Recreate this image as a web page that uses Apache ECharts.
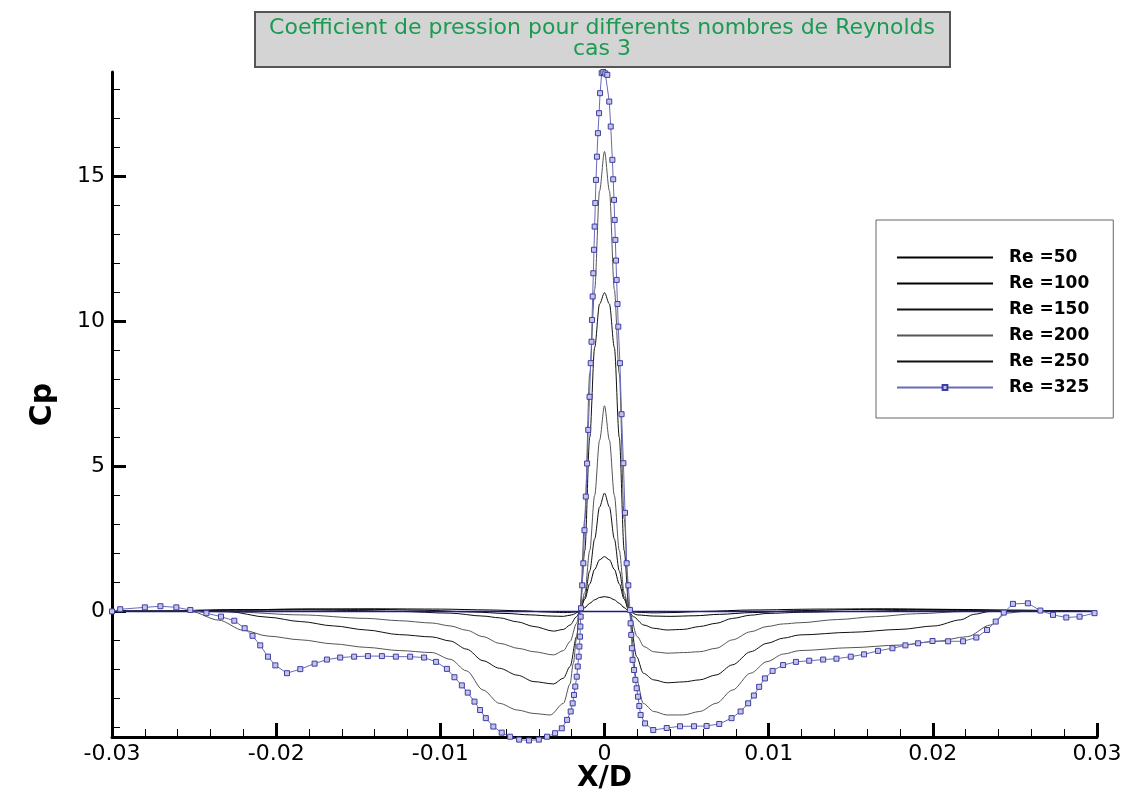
<!DOCTYPE html>
<html>
<head>
<meta charset="utf-8">
<title>Coefficient de pression</title>
<script src="https://cdn.jsdelivr.net/npm/echarts@6/dist/echarts.min.js"></script>
<style>
	html, body { margin: 0; padding: 0; background: #fff; }
	#chart { width: 1129px; height: 796px; }
</style>
</head>
<body>
<div id="chart"></div>
<script>
// titres et etiquettes
const titleText = "Coefficient de pression pour differents nombres de Reynolds\ncas 3";
const legendNames = ["Re =50", "Re =100", "Re =150", "Re =200", "Re =250", "Re =325"];
const yMajorTicks = [0, 5, 10, 15];
const yMinorTicks = [-4, -3, -2, -1, 1, 2, 3, 4, 6, 7, 8, 9, 11, 12, 13, 14, 16, 17, 18];

// Cp(X/D)
const re50 = [
	[-0.03, 0], [-0.026, 0.03], [-0.022, 0.06], [-0.018, 0.08], [-0.014, 0.09], [-0.01, 0.08],
	[-0.007, 0.05], [-0.005, 0.02], [-0.0035, -0.02], [-0.0025, -0.04], [-0.002, -0.03], [-0.0015, 0],
	[-0.0012, 0.13], [-0.0009, 0.28], [-0.0006, 0.4], [-0.0003, 0.48], [0, 0.51], [0.0003, 0.48],
	[0.0006, 0.4], [0.0009, 0.28], [0.0012, 0.13], [0.0015, 0], [0.002, -0.03], [0.003, -0.05],
	[0.004, -0.04], [0.006, 0], [0.009, 0.05], [0.013, 0.08], [0.017, 0.09], [0.021, 0.07],
	[0.025, 0.04], [0.03, 0]
];
const re100 = [
	[-0.03, 0], [-0.026, 0.03], [-0.022, 0.06], [-0.018, 0.08], [-0.014, 0.07], [-0.011, 0.04],
	[-0.008, -0.02], [-0.006, -0.07], [-0.0045, -0.12], [-0.0032, -0.16], [-0.0025, -0.17], [-0.002, -0.12],
	[-0.0015, 0], [-0.0012, 0.42], [-0.0009, 0.95], [-0.0006, 1.45], [-0.0003, 1.78], [0, 1.89],
	[0.0003, 1.78], [0.0006, 1.45], [0.0009, 0.95], [0.0012, 0.42], [0.0015, 0], [0.002, -0.12],
	[0.003, -0.16], [0.004, -0.17], [0.0055, -0.15], [0.007, -0.1], [0.009, -0.04], [0.012, 0.03],
	[0.016, 0.07], [0.02, 0.07], [0.025, 0.04], [0.03, 0]
];
const re150 = [
	[-0.03, 0], [-0.026, 0.02], [-0.022, 0.04], [-0.018, 0.05], [-0.015, 0.03], [-0.0125, 0],
	[-0.0094, -0.06], [-0.0074, -0.16], [-0.0064, -0.22], [-0.0053, -0.36], [-0.0043, -0.52], [-0.0031, -0.68],
	[-0.0025, -0.62], [-0.0021, -0.47], [-0.0017, -0.18], [-0.0015, 0], [-0.0012, 0.5], [-0.0009, 1.4],
	[-0.0006, 2.5], [-0.0003, 3.6], [0, 4.08], [0.0003, 3.6], [0.0006, 2.5], [0.0009, 1.4],
	[0.0012, 0.5], [0.0015, 0], [0.00175, -0.18], [0.0024, -0.47], [0.003, -0.58], [0.0038, -0.64],
	[0.0048, -0.62], [0.0058, -0.52], [0.0068, -0.41], [0.0078, -0.24], [0.0089, -0.13], [0.0099, -0.07],
	[0.012, -0.03], [0.015, 0], [0.019, 0.04], [0.024, 0.03], [0.03, 0]
];
const re200 = [
	[-0.03, 0], [-0.026, 0.02], [-0.0226, -0.02], [-0.0185, -0.12], [-0.0145, -0.24], [-0.0125, -0.32],
	[-0.0105, -0.4], [-0.0094, -0.5], [-0.0084, -0.65], [-0.0074, -0.87], [-0.0064, -1.1], [-0.0052, -1.28],
	[-0.0043, -1.39], [-0.0031, -1.5], [-0.0025, -1.35], [-0.0021, -1.04], [-0.0017, -0.41], [-0.0015, 0],
	[-0.0012, 0.65], [-0.0009, 2.1], [-0.0006, 4.0], [-0.0003, 5.9], [0, 7.09], [0.0003, 5.9],
	[0.0006, 4.0], [0.0009, 2.1], [0.0012, 0.65], [0.0015, 0], [0.002, -0.87], [0.0024, -1.21],
	[0.003, -1.39], [0.0038, -1.44], [0.0048, -1.42], [0.0058, -1.39], [0.0068, -1.27], [0.0078, -0.98],
	[0.0089, -0.7], [0.0099, -0.52], [0.0109, -0.43], [0.0119, -0.39], [0.0142, -0.28], [0.0165, -0.18],
	[0.019, -0.08], [0.022, 0], [0.026, 0.02], [0.03, 0]
];
const re250 = [
	[-0.03, 0], [-0.026, 0.03], [-0.023, 0], [-0.0205, -0.2], [-0.0185, -0.35], [-0.0165, -0.5],
	[-0.0145, -0.64], [-0.0125, -0.8], [-0.0105, -0.88], [-0.0094, -1.02], [-0.0084, -1.3], [-0.0074, -1.7],
	[-0.0064, -1.96], [-0.0053, -2.2], [-0.0043, -2.42], [-0.0031, -2.5], [-0.0025, -2.3], [-0.0021, -1.9],
	[-0.0017, -0.87], [-0.0015, 0], [-0.0012, 2.1], [-0.0009, 6.0], [-0.0006, 9.1], [-0.0003, 10.6],
	[0, 10.99], [0.0003, 10.6], [0.0006, 9.1], [0.0009, 6.0], [0.0012, 2.1], [0.0015, 0],
	[0.00196, -1.56], [0.00236, -2.13], [0.003, -2.36], [0.0038, -2.46], [0.0048, -2.43], [0.0058, -2.36],
	[0.0068, -2.19], [0.0078, -1.84], [0.0089, -1.39], [0.0099, -1.1], [0.0109, -0.92], [0.0119, -0.81],
	[0.015, -0.72], [0.018, -0.62], [0.0201, -0.5], [0.0217, -0.29], [0.0225, -0.1], [0.0235, 0],
	[0.027, 0.02], [0.03, 0]
];
// courbe noire sans entree de legende
const reUnlisted = [
	[-0.03, 0], [-0.027, 0.02], [-0.0252, 0], [-0.0235, -0.3], [-0.022, -0.65], [-0.0205, -0.85],
	[-0.0185, -0.98], [-0.0165, -1.12], [-0.0145, -1.24], [-0.0125, -1.35], [-0.0105, -1.42], [-0.0094, -1.65],
	[-0.0084, -2.05], [-0.0074, -2.71], [-0.0064, -3.17], [-0.0053, -3.4], [-0.0043, -3.52], [-0.0033, -3.57],
	[-0.0025, -3.17], [-0.0021, -2.5], [-0.0019, -1.79], [-0.0017, -0.9], [-0.0015, 0], [-0.0012, 3.2],
	[-0.0009, 8.2], [-0.0006, 11.1], [-0.0003, 14.5], [0, 15.86], [0.0003, 14.5], [0.0006, 11.1],
	[0.0009, 8.2], [0.0012, 3.2], [0.0015, 0], [0.00196, -2.36], [0.00236, -3.17], [0.003, -3.45],
	[0.0038, -3.57], [0.0048, -3.57], [0.0058, -3.45], [0.0068, -3.17], [0.0078, -2.71], [0.0089, -2.13],
	[0.0099, -1.73], [0.0109, -1.47], [0.0119, -1.35], [0.015, -1.25], [0.018, -1.16], [0.0201, -1.04],
	[0.0221, -0.87], [0.0235, -0.47], [0.0245, -0.06], [0.0255, 0], [0.03, 0]
];
const re325 = [
	[-0.03, 0], [-0.0295, 0.075], [-0.028, 0.14], [-0.02705, 0.18], [-0.02608, 0.14], [-0.02523, 0.05],
	[-0.02425, -0.06], [-0.02336, -0.18], [-0.02255, -0.32], [-0.02192, -0.58], [-0.02144, -0.84], [-0.02097, -1.17],
	[-0.0205, -1.56], [-0.02005, -1.86], [-0.01934, -2.13], [-0.01853, -1.99], [-0.01766, -1.8], [-0.01691, -1.66],
	[-0.0161, -1.59], [-0.01525, -1.56], [-0.01441, -1.54], [-0.01356, -1.54], [-0.01271, -1.56], [-0.01184, -1.56],
	[-0.01099, -1.59], [-0.01026, -1.74], [-0.0096, -1.98], [-0.00914, -2.27], [-0.00869, -2.55], [-0.00833, -2.8],
	[-0.00792, -3.11], [-0.00758, -3.4], [-0.00723, -3.68], [-0.00677, -3.97], [-0.00626, -4.18], [-0.00575, -4.32],
	[-0.0052, -4.42], [-0.0046, -4.45], [-0.004, -4.42], [-0.0035, -4.32], [-0.00301, -4.2], [-0.0026, -4.03],
	[-0.00228, -3.74], [-0.00206, -3.45], [-0.00194, -3.17], [-0.00186, -2.88], [-0.00178, -2.59], [-0.00169, -2.25],
	[-0.00163, -1.9], [-0.00157, -1.56], [-0.00153, -1.21], [-0.00149, -0.87], [-0.00147, -0.52], [-0.00145, -0.18],
	[-0.00143, 0.11], [-0.00136, 0.9], [-0.00129, 1.66], [-0.00122, 2.8], [-0.00114, 3.96], [-0.00106, 5.1],
	[-0.00099, 6.26], [-0.00091, 7.4], [-0.00084, 8.56], [-0.00079, 9.3], [-0.00076, 10.05], [-0.00072, 10.86],
	[-0.00068, 11.66], [-0.00064, 12.47], [-0.0006, 13.27], [-0.00056, 14.08], [-0.00052, 14.88], [-0.00046, 15.68],
	[-0.0004, 16.49], [-0.00033, 17.18], [-0.00027, 17.87], [-0.00017, 18.56], [-0.00007, 18.6], [0.00005, 18.55],
	[0.00017, 18.5], [0.00029, 17.58], [0.00038, 16.72], [0.00048, 15.57], [0.00053, 14.9], [0.00058, 14.19],
	[0.00062, 13.5], [0.00066, 12.81], [0.0007, 12.1], [0.00074, 11.43], [0.00079, 10.6], [0.00084, 9.82],
	[0.00094, 8.56], [0.00104, 6.8], [0.00115, 5.11], [0.00125, 3.4], [0.00135, 1.66], [0.00145, 0.9],
	[0.00155, 0.05], [0.00159, -0.41], [0.00163, -0.81], [0.00167, -1.27], [0.00171, -1.67], [0.0018, -2.02],
	[0.00188, -2.36], [0.00196, -2.65], [0.00204, -2.94], [0.00212, -3.26], [0.0022, -3.57], [0.00247, -3.86],
	[0.00297, -4.09], [0.00379, -4.02], [0.0046, -3.96], [0.00545, -3.96], [0.00622, -3.95], [0.00699, -3.88],
	[0.00774, -3.68], [0.00829, -3.45], [0.00875, -3.17], [0.0091, -2.9], [0.00942, -2.6], [0.00977, -2.31],
	[0.01024, -2.05], [0.01088, -1.85], [0.01166, -1.74], [0.01247, -1.7], [0.01332, -1.66], [0.01413, -1.63],
	[0.015, -1.56], [0.01581, -1.48], [0.01666, -1.36], [0.01754, -1.27], [0.01833, -1.17], [0.0191, -1.1],
	[0.01998, -1.02], [0.02093, -1.03], [0.02184, -1.03], [0.02265, -0.9], [0.0233, -0.64], [0.02383, -0.35],
	[0.02432, -0.04], [0.02488, 0.26], [0.02579, 0.28], [0.02655, 0.03], [0.02732, -0.12], [0.02813, -0.21],
	[0.02894, -0.18], [0.02985, -0.06]
];
// ligne Cp = 0
const zeroLine = [[-0.03, 0], [0.03, 0]];

const FONT = "DejaVu Sans";
const chart = echarts.init(document.getElementById("chart"));

function blackLine(name, data, color) {
	return {
		name: name,
		type: "line",
		data: data,
		showSymbol: false,
		symbol: "none",
		smooth: 0.3,
		smoothMonotone: "x",
		lineStyle: { color: color, width: 1 },
		itemStyle: { color: color },
		emphasis: { disabled: true },
		silent: true,
	};
}

// pas de symbole dans la legende pour les courbes noires
const legendData = legendNames.map((name) =>
	name === "Re =325" ? { name } : { name, itemStyle: { opacity: 0 } }
);

const option = {
	animation: false,
	backgroundColor: "#fff",
	graphic: [
		{
			type: "rect",
			shape: { x: 255, y: 12, width: 695, height: 55 },
			style: { fill: "#d4d4d4", stroke: "#555", lineWidth: 2 },
			z: 10,
		},
		{
			type: "text",
			x: 602,
			y: 39,
			z: 11,
			style: {
				text: titleText,
				fill: "#1c9a52",
				font: "22px '" + FONT + "'",
				align: "center",
				verticalAlign: "middle",
				lineHeight: 21,
			},
		},
	],
	legend: {
		data: legendData,
		orient: "vertical",
		left: 876,
		top: 220,
		padding: [29, 24, 22, 20],
		itemWidth: 96,
		itemHeight: 6,
		itemGap: 9,
		backgroundColor: "#fff",
		borderColor: "#666",
		borderWidth: 1,
		selectedMode: false,
		textStyle: {
			fontFamily: FONT,
			fontSize: 17,
			fontWeight: "bold",
			color: "#000",
			lineHeight: 17,
			padding: [0, 0, 0, 11],
		},
	},
	grid: { left: 112, right: 32, top: 72, bottom: 59, containLabel: false, outerBoundsMode: "none" },
	xAxis: {
		type: "value",
		min: -0.03,
		max: 0.03,
		interval: 0.01,
		name: "X/D",
		nameLocation: "middle",
		nameGap: 28,
		nameMoveOverlap: false,
		nameTextStyle: { fontFamily: FONT, fontSize: 28, fontWeight: "bold", color: "#000" },
		axisLine: { onZero: false, lineStyle: { color: "#000", width: 3 } },
		axisTick: { inside: true, length: 14, lineStyle: { color: "#000", width: 3 } },
		minorTick: { show: true, splitNumber: 5, length: 8, lineStyle: { color: "#000", width: 1 } },
		splitLine: { show: false },
		axisLabel: {
			fontFamily: FONT,
			fontSize: 22,
			color: "#000",
			margin: 6,
			formatter: (v) => (Math.abs(v) < 1e-9 ? "0" : v.toFixed(2)),
		},
	},
	yAxis: [
		{
			type: "value",
			position: "left",
			min: -4.33,
			max: 18.6,
			name: "Cp",
			nameLocation: "middle",
			nameRotate: 90,
			nameGap: 54,
			nameTextStyle: { fontFamily: FONT, fontSize: 30, fontWeight: "bold", color: "#000" },
			axisLine: { show: true, onZero: false, lineStyle: { color: "#000", width: 3 } },
			axisTick: { show: true, inside: true, length: 14, customValues: yMajorTicks, lineStyle: { color: "#000", width: 3 } },
			axisLabel: { fontFamily: FONT, fontSize: 22, color: "#000", margin: 7, customValues: yMajorTicks },
			splitLine: { show: false },
		},
		{
			type: "value",
			position: "left",
			offset: 0,
			min: -4.33,
			max: 18.6,
			axisLine: { show: false, onZero: false },
			axisTick: { show: true, inside: true, length: 8, customValues: yMinorTicks, lineStyle: { color: "#000", width: 1 } },
			axisLabel: { show: false },
			splitLine: { show: false },
		},
	],
	series: [
		blackLine("Re =50", re50, "#000"),
		blackLine("Re =100", re100, "#000"),
		blackLine("Re =150", re150, "#111"),
		blackLine("Re =200", re200, "#555"),
		blackLine("Re =250", re250, "#111"),
		blackLine(undefined, reUnlisted, "#555"),
		{
			type: "line",
			data: zeroLine,
			symbol: "none",
			lineStyle: { color: "#1a1a8c", width: 1.5 },
			silent: true,
		},
		{
			name: "Re =325",
			type: "line",
			data: re325,
			symbol: "rect",
			symbolSize: 5,
			showSymbol: true,
			clip: false,
			lineStyle: { color: "#6a6abb", width: 1 },
			itemStyle: { color: "#c4c4e6", borderColor: "#3d3da6", borderWidth: 1 },
			emphasis: { disabled: true },
			silent: true,
			z: 3,
		},
	],
};

chart.setOption(option);
</script>
</body>
</html>
